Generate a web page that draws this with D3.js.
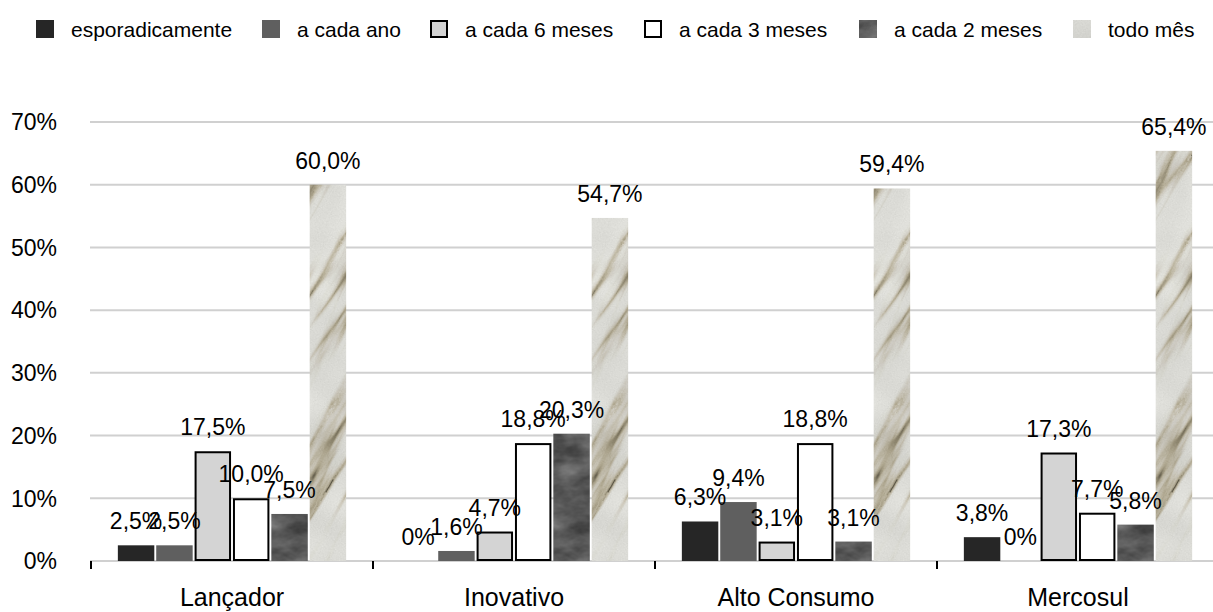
<!DOCTYPE html>
<html>
<head>
<meta charset="utf-8">
<script src="https://cdn.jsdelivr.net/npm/d3@7"></script>
<style>
  html, body { margin: 0; padding: 0; background: #fff; }
  svg { display: block; font-family: "Liberation Sans", Arial, sans-serif; }
</style>
</head>
<body>
<svg id="chart" width="1213" height="612"></svg>
<script>
// Frequency of purchase by channel profile (share of respondents, %)
const categories = ["Lançador", "Inovativo", "Alto Consumo", "Mercosul"];
const seriesNames = ["esporadicamente", "a cada ano", "a cada 6 meses", "a cada 3 meses", "a cada 2 meses", "todo mês"];

const esporadicamente = [2.5, 0, 6.3, 3.8];
const aCadaAno        = [2.5, 1.6, 9.4, 0];
const aCada6Meses     = [17.5, 4.7, 3.1, 17.3];
const aCada3Meses     = [10.0, 18.8, 18.8, 7.7];
const aCada2Meses     = [7.5, 20.3, 3.1, 5.8];
const todoMes         = [60.0, 54.7, 59.4, 65.4];

const yTicks = [0, 10, 20, 30, 40, 50, 60, 70];

const seriesValues = [esporadicamente, aCadaAno, aCada6Meses, aCada3Meses, aCada2Meses, todoMes];

const svg = d3.select("#chart");
const W = 1213, H = 612;

// ---- textures ----
const defs = svg.append("defs");

// cloudy dark grey
const cloud = defs.append("filter").attr("id", "cloudFx")
  .attr("x", 0).attr("y", 0).attr("width", 1).attr("height", 1)
  .attr("color-interpolation-filters", "sRGB");
cloud.append("feTurbulence").attr("type", "fractalNoise")
  .attr("baseFrequency", "0.03 0.05").attr("numOctaves", 4).attr("seed", 11).attr("result", "n");
cloud.append("feColorMatrix").attr("in", "n").attr("type", "matrix")
  .attr("values", "0.4 0 0 0 0.15  0.4 0 0 0 0.15  0.4 0 0 0 0.15  0 0 0 0 1").attr("result", "c");
cloud.append("feComposite").attr("in", "c").attr("in2", "SourceGraphic").attr("operator", "in");

// marble: light grey stone with thin diagonal veins
const T = 600;
const marbleFx = defs.append("filter").attr("id", "marbleFx")
  .attr("filterUnits", "userSpaceOnUse").attr("x", 0).attr("y", 0).attr("width", T).attr("height", T)
  .attr("color-interpolation-filters", "sRGB");
marbleFx.append("feTurbulence").attr("type", "turbulence")
  .attr("baseFrequency", "0.004 0.026").attr("numOctaves", 4).attr("seed", 9)
  .attr("stitchTiles", "stitch").attr("result", "t");
marbleFx.append("feColorMatrix").attr("in", "t").attr("type", "matrix")
  .attr("values", "1 0 0 0 0  1 0 0 0 0  1 0 0 0 0  0 0 0 0 1").attr("result", "g");
const ramp = (head, tail) => head.concat(Array(20 - head.length).fill(tail)).join(" ");
const ct = marbleFx.append("feComponentTransfer").attr("in", "g").attr("result", "m");
ct.append("feFuncR").attr("type", "table").attr("tableValues", ramp([0.34, 0.57, 0.70, 0.78, 0.82, 0.85], 0.86));
ct.append("feFuncG").attr("type", "table").attr("tableValues", ramp([0.32, 0.54, 0.67, 0.76, 0.81, 0.85], 0.86));
ct.append("feFuncB").attr("type", "table").attr("tableValues", ramp([0.26, 0.45, 0.58, 0.70, 0.78, 0.82], 0.84));
ct.append("feFuncA").attr("type", "discrete").attr("tableValues", "1");
// soft mottling
marbleFx.append("feTurbulence").attr("type", "fractalNoise")
  .attr("baseFrequency", "0.02").attr("numOctaves", 2).attr("seed", 5).attr("result", "mot");
marbleFx.append("feColorMatrix").attr("in", "mot").attr("type", "matrix")
  .attr("values", "1 0 0 0 0  1 0 0 0 0  1 0 0 0 0  0 0 0 0 1").attr("result", "mg");
marbleFx.append("feComposite").attr("in", "m").attr("in2", "mg").attr("operator", "arithmetic")
  .attr("k1", 0).attr("k2", 1).attr("k3", 0.12).attr("k4", -0.06).attr("result", "m2");
// fine grain
marbleFx.append("feTurbulence").attr("type", "fractalNoise")
  .attr("baseFrequency", "0.9").attr("numOctaves", 1).attr("seed", 3).attr("result", "grain");
marbleFx.append("feColorMatrix").attr("in", "grain").attr("type", "matrix")
  .attr("values", "1 0 0 0 0  1 0 0 0 0  1 0 0 0 0  0 0 0 0 1").attr("result", "gg");
marbleFx.append("feComposite").attr("in", "m2").attr("in2", "gg").attr("operator", "arithmetic")
  .attr("k1", 0).attr("k2", 1).attr("k3", 0.1).attr("k4", -0.05);

const marble = defs.append("pattern").attr("id", "marble")
  .attr("patternUnits", "userSpaceOnUse").attr("width", T).attr("height", T)
  .attr("patternTransform", "rotate(-60)");
marble.append("rect").attr("width", T).attr("height", T).attr("filter", "url(#marbleFx)");

const styles = [
  { fill: "#262626", stroke: "none" },
  { fill: "#5f5f5f", stroke: "none" },
  { fill: "#d4d4d4", stroke: "#000" },
  { fill: "#ffffff", stroke: "#000" },
  { fill: "#5a5a5a", stroke: "none", filter: "url(#cloudFx)" },
  { fill: "url(#marble)", stroke: "none" }
];

// ---- scales ----
const x0 = d3.scaleBand().domain(categories).range([91, 1219]).padding(0);
const x1 = d3.scaleBand().domain(seriesNames).range([0, x0.bandwidth()])
  .paddingInner(0.05).paddingOuter(0.7);
const y = d3.scaleLinear().domain([0, 70]).range([561, 122]);

// ---- gridlines ----
svg.append("g").selectAll("line").data(yTicks).join("line")
  .attr("x1", 90).attr("x2", W)
  .attr("y1", d => y(d)).attr("y2", d => y(d))
  .attr("stroke", "#d0d0d0").attr("stroke-width", 2);

// y tick labels
svg.append("g").selectAll("text").data(yTicks).join("text")
  .attr("x", 57).attr("y", d => y(d)).attr("dy", "0.36em")
  .attr("text-anchor", "end").attr("font-size", 23).attr("fill", "#000")
  .text(d => d + "%");

// x axis tick marks at category boundaries
const bounds = categories.map(c => x0(c)).concat([x0.range()[1]]);
svg.append("g").selectAll("line").data(bounds).join("line")
  .attr("x1", d => d).attr("x2", d => d)
  .attr("y1", 561).attr("y2", 569)
  .attr("stroke", "#000").attr("stroke-width", 2);

// ---- bars ----
const fmt = v => v === 0 ? "0%" : d3.format(".1f")(v).replace(".", ",") + "%";

const groups = svg.append("g").selectAll("g").data(categories).join("g")
  .attr("transform", d => `translate(${x0(d)},0)`);

groups.each(function(cat, ci) {
  const g = d3.select(this);
  seriesNames.forEach((s, si) => {
    const v = seriesValues[si][ci];
    const st = styles[si];
    if (v <= 0) return;
    const sw = st.stroke === "none" ? 0 : 2;
    g.append("rect")
      .attr("x", x1(s) + sw / 2)
      .attr("y", y(v) + sw / 2)
      .attr("width", x1.bandwidth() - sw)
      .attr("height", Math.max(0, y(0) - y(v) - sw))
      .attr("fill", st.fill)
      .attr("stroke", st.stroke)
      .attr("stroke-width", sw)
      .attr("filter", st.filter || null);
  });
});

// value labels
groups.each(function(cat, ci) {
  const g = d3.select(this);
  seriesNames.forEach((s, si) => {
    const v = seriesValues[si][ci];
    g.append("text")
      .attr("x", x1(s) + x1.bandwidth() / 2)
      .attr("y", y(v) - 16)
      .attr("text-anchor", "middle")
      .attr("font-size", 23).attr("fill", "#000")
      .text(fmt(v));
  });
});

// category labels
svg.append("g").selectAll("text").data(categories).join("text")
  .attr("x", d => x0(d) + x0.bandwidth() / 2)
  .attr("y", 606)
  .attr("text-anchor", "middle").attr("font-size", 25).attr("fill", "#000")
  .text(d => d);

// ---- legend ----
const legendX = [36, 262, 430, 644, 859, 1073];
const legend = svg.append("g").selectAll("g").data(seriesNames).join("g")
  .attr("transform", (d, i) => `translate(${legendX[i]},0)`);
legend.append("rect")
  .attr("x", (d, i) => styles[i].stroke === "none" ? 0 : 1)
  .attr("y", (d, i) => styles[i].stroke === "none" ? 20 : 21)
  .attr("width", (d, i) => styles[i].stroke === "none" ? 18 : 16)
  .attr("height", (d, i) => styles[i].stroke === "none" ? 18 : 16)
  .attr("fill", (d, i) => styles[i].fill)
  .attr("stroke", (d, i) => styles[i].stroke)
  .attr("stroke-width", (d, i) => styles[i].stroke === "none" ? 0 : 2)
  .attr("filter", (d, i) => styles[i].filter || null);
legend.append("text")
  .attr("x", 35).attr("y", 37)
  .attr("font-size", 21).attr("fill", "#000")
  .text(d => d);
</script>
</body>
</html>
